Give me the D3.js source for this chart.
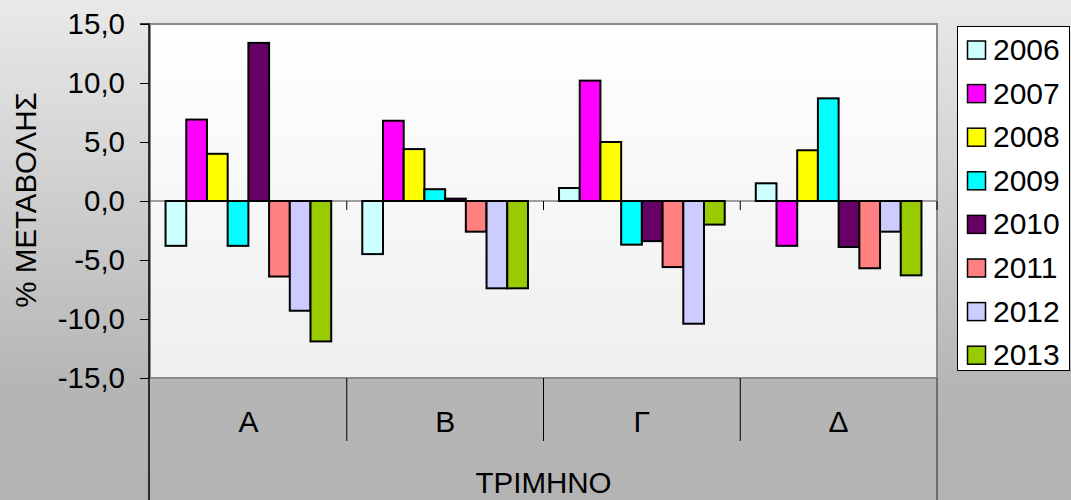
<!DOCTYPE html>
<html>
<head>
<meta charset="utf-8">
<script src="https://cdn.jsdelivr.net/npm/d3@7"></script>
<style>
  html, body { margin: 0; padding: 0; overflow: hidden; }
  svg { display: block; font-family: "Liberation Sans", Arial, sans-serif; }
</style>
</head>
<body>
<svg id="chart" width="1071" height="500"></svg>
<script>
const categories = ["Α", "Β", "Γ", "Δ"];
const years = ["2006", "2007", "2008", "2009", "2010", "2011", "2012", "2013"];
const values2006 = [-3.8, -4.5, 1.1, 1.5];
const values2007 = [6.9, 6.8, 10.2, -3.8];
const values2008 = [4.0, 4.4, 5.0, 4.3];
const values2009 = [-3.8, 1.0, -3.7, 8.7];
const values2010 = [13.4, 0.2, -3.4, -3.9];
const values2011 = [-6.4, -2.6, -5.6, -5.7];
const values2012 = [-9.3, -7.4, -10.4, -2.6];
const values2013 = [-11.9, -7.4, -2.0, -6.3];
const colors = ["#CCFFFF", "#FF00FF", "#FFFF00", "#00FFFF", "#660066", "#FF8080", "#CCCCFF", "#99CC00"];
const yTicks = [-15, -10, -5, 0, 5, 10, 15];
const yTitle = "% ΜΕΤΑΒΟΛΗΣ";
const xTitle = "ΤΡΙΜΗΝΟ";

const seriesValues = [values2006, values2007, values2008, values2009, values2010, values2011, values2012, values2013];

const svg = d3.select("#chart");
const W = 1071, H = 500;
const plot = { left: 150, right: 937, top: 24, bottom: 378 };

const defs = svg.append("defs");
const bg = defs.append("linearGradient").attr("id", "bg").attr("x1", 0).attr("y1", 0).attr("x2", 0).attr("y2", 1);
bg.append("stop").attr("offset", "0%").attr("stop-color", "#e9e9e9");
bg.append("stop").attr("offset", "78%").attr("stop-color", "#b5b5b5");
bg.append("stop").attr("offset", "100%").attr("stop-color", "#b3b3b3");
const pg = defs.append("linearGradient").attr("id", "pg").attr("x1", 0).attr("y1", 0).attr("x2", 0).attr("y2", 1);
pg.append("stop").attr("offset", "0%").attr("stop-color", "#ffffff");
pg.append("stop").attr("offset", "100%").attr("stop-color", "#efefef");

svg.append("rect").attr("x", 0).attr("y", 0).attr("width", W).attr("height", H).attr("fill", "url(#bg)");

svg.append("rect")
  .attr("x", plot.left).attr("y", plot.top)
  .attr("width", plot.right - plot.left).attr("height", plot.bottom - plot.top)
  .attr("fill", "url(#pg)").attr("stroke", "#8a8a8a").attr("stroke-width", 2);

const x0 = d3.scaleBand().domain(categories).range([plot.left, plot.right]).paddingInner(0).paddingOuter(0);
const x1 = d3.scaleBand().domain(years).range([0, x0.bandwidth()]).paddingInner(0).paddingOuter(0.75);
const y = d3.scaleLinear().domain([-15, 15]).range([plot.bottom, plot.top]);

const locale = d3.formatLocale({ decimal: ",", thousands: ".", grouping: [3], currency: ["", "€"], minus: "-" });
const fmt = locale.format(".1f");

// zero line
svg.append("line")
  .attr("x1", plot.left).attr("x2", plot.right)
  .attr("y1", y(0)).attr("y2", y(0))
  .attr("stroke", "#808080").attr("stroke-width", 1.5);

// category ticks on zero line
svg.append("g").selectAll("line")
  .data(categories.slice(1).concat(["end"]))
  .join("line")
  .attr("x1", d => d === "end" ? plot.right : x0(d))
  .attr("x2", d => d === "end" ? plot.right : x0(d))
  .attr("y1", y(0)).attr("y2", y(0) + 9)
  .attr("stroke", "#000").attr("stroke-width", 1);

// bars
const data = [];
categories.forEach((c, ci) => {
  years.forEach((yr, si) => {
    data.push({ cat: c, year: yr, value: seriesValues[si][ci], color: colors[si] });
  });
});

svg.append("g").selectAll("rect")
  .data(data)
  .join("rect")
  .attr("x", d => x0(d.cat) + x1(d.year))
  .attr("width", x1.bandwidth())
  .attr("y", d => y(Math.max(0, d.value)))
  .attr("height", d => Math.abs(y(d.value) - y(0)))
  .attr("fill", d => d.color)
  .attr("stroke", "#000")
  .attr("stroke-width", 2);

// y axis
const yAxis = svg.append("g")
  .attr("transform", `translate(${plot.left - 1},0)`)
  .call(d3.axisLeft(y).tickValues(yTicks).tickFormat(fmt).tickSize(9).tickPadding(15));
yAxis.select(".domain").attr("stroke", "#000").attr("stroke-width", 1.5).attr("d", `M-9,${plot.top}H0V${H}`);
yAxis.selectAll(".tick line").attr("stroke", "#000");
yAxis.selectAll(".tick text").attr("font-size", 29.5).attr("fill", "#000")
  .attr("font-family", "Liberation Sans, Arial, sans-serif");

// category label area
const sep = svg.append("g");
categories.slice(1).forEach(c => {
  sep.append("line").attr("x1", x0(c)).attr("x2", x0(c))
    .attr("y1", plot.bottom).attr("y2", 441)
    .attr("stroke", "#000").attr("stroke-width", 1);
});
sep.append("line").attr("x1", plot.right).attr("x2", plot.right)
  .attr("y1", plot.bottom).attr("y2", H)
  .attr("stroke", "#555").attr("stroke-width", 1.5);

const xAxis = svg.append("g")
  .attr("transform", `translate(0,${plot.bottom})`)
  .call(d3.axisBottom(x0).tickSize(0).tickPadding(33));
xAxis.select(".domain").remove();
xAxis.selectAll(".tick text").attr("font-size", 30).attr("fill", "#000")
  .attr("font-family", "Liberation Sans, Arial, sans-serif");

svg.append("text")
  .attr("x", (plot.left + plot.right) / 2).attr("y", 493)
  .attr("text-anchor", "middle").attr("font-size", 29.5).attr("fill", "#000")
  .text(xTitle);

svg.append("text")
  .attr("transform", `translate(36,200) rotate(-90)`)
  .attr("text-anchor", "middle").attr("font-size", 29.5).attr("fill", "#000")
  .text(yTitle);

// legend
const lg = svg.append("g");
lg.append("rect").attr("x", 957.5).attr("y", 26.5).attr("width", 112).attr("height", 344)
  .attr("fill", "#fff").attr("stroke", "#000").attr("stroke-width", 1);
const items = lg.selectAll("g.item").data(years).join("g").attr("class", "item")
  .attr("transform", (d, i) => `translate(0,${i * 43.6})`);
items.append("rect").attr("x", 967.5).attr("y", 41).attr("width", 18).attr("height", 18)
  .attr("fill", (d, i) => colors[i]).attr("stroke", "#000").attr("stroke-width", 1.5);
items.append("text").attr("x", 993).attr("y", 60)
  .attr("font-size", 30).attr("fill", "#000").text(d => d);
</script>
</body>
</html>
